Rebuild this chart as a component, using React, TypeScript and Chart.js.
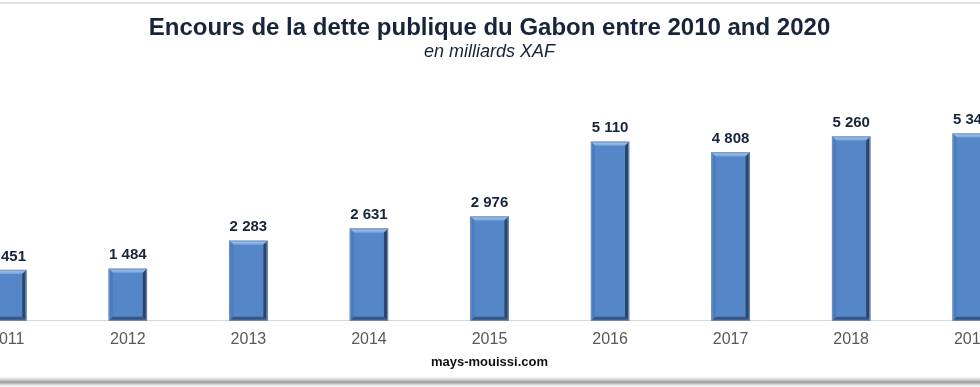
import React, { useEffect, useRef } from "react";
import { Chart, registerables } from "chart.js";

Chart.register(...registerables);

const years = ["2011", "2012", "2013", "2014", "2015", "2016", "2017", "2018", "2019"];
const debt = [1451, 1484, 2283, 2631, 2976, 5110, 4808, 5260, 5348];
const titleText = "Encours de la dette publique du Gabon entre 2010 and 2020";
const subtitleText = "en milliards XAF";
const sourceText = "mays-mouissi.com";

const FONT = "'Liberation Sans', Arial, sans-serif";

const fmt = (v: number) => String(v).replace(/\B(?=(\d{3})+(?!\d))/g, " ");

const bevelPlugin = {
  id: "bevel",
  afterDatasetsDraw(chart: any) {
    const ctx = chart.ctx;
    const meta = chart.getDatasetMeta(0);
    meta.data.forEach((bar: any, i: number) => {
      const w = bar.width;
      const l = bar.x - w / 2;
      const r = bar.x + w / 2;
      const t = bar.y;
      const b = bar.base;
      const s = 4;
      ctx.save();
      const poly = (pts: number[][], fill: any) => {
        ctx.beginPath();
        ctx.moveTo(pts[0][0], pts[0][1]);
        for (let k = 1; k < pts.length; k++) ctx.lineTo(pts[k][0], pts[k][1]);
        ctx.closePath();
        ctx.fillStyle = fill;
        ctx.fill();
      };
      const gTop = ctx.createLinearGradient(0, t, 0, t + s);
      gTop.addColorStop(0, "#a9c8ee");
      gTop.addColorStop(1, "#77a3dc");
      poly([[l, t], [r, t], [r - s, t + s], [l + s, t + s]], gTop);
      poly([[l, t], [l + s, t + s], [l + s, b - s], [l, b]], "#4c7cbb");
      poly([[r, t], [r, b], [r - s, b - s], [r - s, t + s]], "#2a456c");
      poly([[l, b], [r, b], [r - s, b - s], [l + s, b - s]], "#34578a");
      ctx.strokeStyle = "rgba(120,150,190,0.9)";
      ctx.lineWidth = 1;
      ctx.strokeRect(l + 0.5, t + 0.5, w - 1, b - t - 1);
      // value label
      ctx.fillStyle = "#17243a";
      ctx.font = `bold 15px ${FONT}`;
      ctx.textAlign = "center";
      ctx.textBaseline = "bottom";
      ctx.fillText(fmt(debt[i]), bar.x, t - 6);
      ctx.restore();
    });
  },
  afterDraw(chart: any) {
    const ctx = chart.ctx;
    const area = chart.chartArea;
    ctx.save();
    ctx.fillStyle = "#111111";
    ctx.font = `bold 13px ${FONT}`;
    ctx.textAlign = "center";
    ctx.textBaseline = "middle";
    ctx.fillText(sourceText, (area.left + area.right) / 2, area.bottom + 42);
    ctx.restore();
  },
};

export default function App() {
  const ref = useRef<HTMLCanvasElement | null>(null);

  useEffect(() => {
    document.body.style.margin = "0";
    const chart = new Chart(ref.current as HTMLCanvasElement, {
      type: "bar",
      data: {
        labels: years,
        datasets: [
          {
            data: debt,
            backgroundColor: "#5587c8",
            barThickness: 38,
            borderWidth: 0,
          },
        ],
      },
      options: {
        responsive: false,
        animation: false,
        layout: { padding: { top: 0, bottom: 29, left: 0, right: 0 } },
        plugins: {
          legend: { display: false },
          tooltip: { enabled: false },
          title: {
            display: true,
            text: titleText,
            color: "#17243a",
            font: { family: FONT, size: 24, weight: "bold", lineHeight: 1.1 },
            padding: { top: 15, bottom: 0 },
          },
          subtitle: {
            display: true,
            text: subtitleText,
            color: "#17243a",
            font: { family: FONT, size: 18, style: "italic" },
            padding: { top: 0, bottom: 12.6 },
          },
        },
        scales: {
          x: {
            grid: { display: false, drawTicks: false },
            border: { display: true, color: "#d9d9d9", width: 1 },
            ticks: { color: "#595959", font: { family: FONT, size: 16 }, padding: 9 },
          },
          y: {
            display: false,
            min: 0,
            max: 7000,
          },
        },
      },
      plugins: [bevelPlugin],
    });
    return () => chart.destroy();
  }, []);

  return (
    <div
      style={{
        position: "fixed",
        left: 0,
        top: 0,
        width: 980,
        height: 387,
        overflow: "hidden",
        background: "#ffffff",
      }}
    >
      <canvas
        ref={ref}
        width={1085}
        height={387}
        style={{ position: "absolute", left: -53, top: 0, width: 1085, height: 387 }}
      />
      <div style={{ position: "absolute", left: 0, top: 2, width: 980, height: 2, background: "#e2e2e2" }} />
      <div
        style={{
          position: "absolute",
          left: 0,
          top: 377,
          width: 980,
          height: 10,
          background:
            "linear-gradient(to bottom, #f4f4f4 0px, #dedede 2px, #b5b5b5 4px, #9a9a9a 5px, #c8c8c8 7px, #e6e6e6 8px, #f6f6f6 10px)",
        }}
      />
    </div>
  );
}
